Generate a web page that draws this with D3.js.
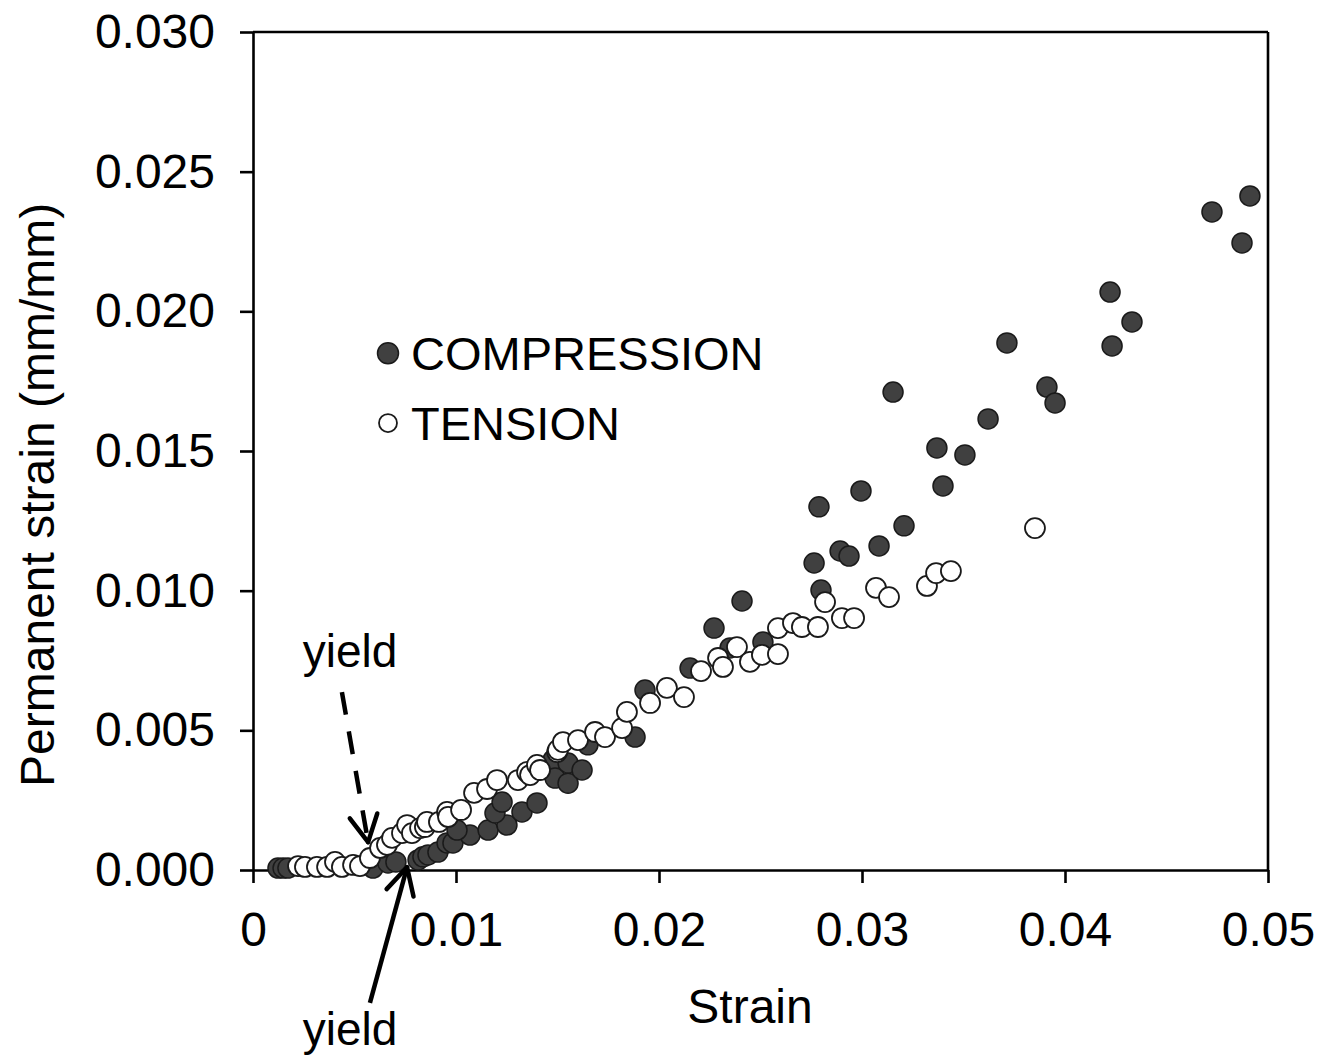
<!DOCTYPE html>
<html><head><meta charset="utf-8">
<script src="https://cdn.jsdelivr.net/npm/d3@7"></script>
<style>
html,body{margin:0;padding:0;background:#fff;}
svg{display:block;font-family:"Liberation Sans",Arial,sans-serif;}
</style></head>
<body>
<svg id="chart" width="1331" height="1059"></svg>
<script>
// ---- data ----
const xTickValues = [0, 0.01, 0.02, 0.03, 0.04, 0.05];
const xTickLabels = ["0", "0.01", "0.02", "0.03", "0.04", "0.05"];
const yTickValues = [0, 0.005, 0.010, 0.015, 0.020, 0.025, 0.030];
const yTickLabels = ["0.000", "0.005", "0.010", "0.015", "0.020", "0.025", "0.030"];
const seriesNames = ["COMPRESSION", "TENSION"];
const xTitle = "Strain";
const yTitle = "Permanent strain (mm/mm)";

const compressionStrain = [0.00123,0.00148,0.00172,0.00591,0.00665,0.00704,0.00813,0.00837,0.00862,0.00911,0.00956,0.00985,0.01069,0.01005,0.01158,0.01251,0.01192,0.01227,0.01325,0.01399,0.01478,0.01488,0.01552,0.01552,0.01621,0.01650,0.01882,0.01931,0.02153,0.02271,0.02350,0.02409,0.02512,0.02764,0.02798,0.02788,0.02892,0.02936,0.02995,0.03084,0.03153,0.03207,0.03369,0.03399,0.03507,0.03621,0.03714,0.03911,0.03951,0.04222,0.04232,0.04330,0.04724,0.04872,0.04911];
const compressionPermanent = [0.00007,0.00007,0.00007,0.00007,0.00025,0.00029,0.00036,0.00047,0.00054,0.00064,0.00097,0.00097,0.00125,0.00143,0.00143,0.00161,0.00204,0.00243,0.00208,0.00240,0.00394,0.00329,0.00311,0.00383,0.00358,0.00448,0.00476,0.00644,0.00723,0.00866,0.00795,0.00963,0.00816,0.01099,0.01002,0.01300,0.01142,0.01124,0.01357,0.01160,0.01711,0.01232,0.01511,0.01375,0.01486,0.01615,0.01887,0.01729,0.01672,0.02069,0.01876,0.01962,0.02356,0.02245,0.02413];

const tensionStrain = [0.00222,0.00256,0.00315,0.00365,0.00404,0.00438,0.00493,0.00527,0.00576,0.00626,0.00660,0.00685,0.00734,0.00759,0.00783,0.00823,0.00847,0.00857,0.00916,0.00956,0.00961,0.01025,0.01089,0.01153,0.01202,0.01305,0.01350,0.01365,0.01399,0.01414,0.01498,0.01502,0.01527,0.01601,0.01685,0.01734,0.01818,0.01842,0.01956,0.02039,0.02123,0.02207,0.02291,0.02315,0.02384,0.02448,0.02507,0.02586,0.02586,0.02660,0.02704,0.02783,0.02818,0.02901,0.02961,0.03069,0.03133,0.03320,0.03365,0.03438,0.03852];
const tensionPermanent = [0.00014,0.00011,0.00011,0.00011,0.00029,0.00011,0.00018,0.00014,0.00043,0.00079,0.00090,0.00115,0.00132,0.00161,0.00132,0.00150,0.00154,0.00172,0.00172,0.00208,0.00190,0.00215,0.00276,0.00290,0.00322,0.00322,0.00351,0.00340,0.00376,0.00358,0.00422,0.00430,0.00458,0.00465,0.00494,0.00476,0.00508,0.00566,0.00598,0.00652,0.00619,0.00712,0.00759,0.00727,0.00798,0.00745,0.00770,0.00866,0.00773,0.00884,0.00870,0.00870,0.00959,0.00902,0.00902,0.01010,0.00977,0.01017,0.01063,0.01070,0.01224];

// annotations (data units): [label x, label y, tail x, tail y, tip x, tip y]
const yieldTension = [0.00478, 0.00727, 0.00438, 0.00637, 0.00567, 0.00100];
const yieldCompression = [0.00478, -0.00627, 0.00576, -0.00476, 0.00759, 0.00010];

// ---- drawing ----
const svg = d3.select("#chart");
const x = d3.scaleLinear().domain([0, 0.05]).range([253, 1268]);
const y = d3.scaleLinear().domain([0, 0.03]).range([870, 32]);
const FS = 47;
const TFS = 48;
const R = 10;

// frame (top & right)
svg.append("line").attr("x1", x(0)).attr("x2", x(0.05)).attr("y1", y(0.03)).attr("y2", y(0.03))
  .attr("stroke", "#000").attr("stroke-width", 2.6);
svg.append("line").attr("x1", x(0.05)).attr("x2", x(0.05)).attr("y1", y(0.03)).attr("y2", y(0))
  .attr("stroke", "#000").attr("stroke-width", 2.6);

const gx = svg.append("g").attr("transform", `translate(0,${y(0)})`)
  .call(d3.axisBottom(x).tickValues(xTickValues).tickFormat((d, i) => xTickLabels[i]).tickSize(13).tickSizeOuter(0).tickPadding(29));
const gy = svg.append("g").attr("transform", `translate(${x(0)},0)`)
  .call(d3.axisLeft(y).tickValues(yTickValues).tickFormat((d, i) => yTickLabels[i]).tickSize(13).tickSizeOuter(0).tickPadding(25));
[gx, gy].forEach(g => {
  g.select(".domain").attr("stroke", "#000").attr("stroke-width", 2.6);
  g.selectAll(".tick line").attr("stroke", "#000").attr("stroke-width", 2.6);
  g.selectAll(".tick text").attr("font-size", TFS).attr("fill", "#000")
    .attr("font-family", '"Liberation Sans",Arial,sans-serif');
});

// axis titles
svg.append("text").attr("x", 750).attr("y", 1023).attr("text-anchor", "middle")
  .attr("font-size", TFS).attr("fill", "#000").text(xTitle);
svg.append("text").attr("transform", `translate(54,${y(0.01343)}) rotate(-90)`).attr("text-anchor", "middle")
  .attr("font-size", TFS).attr("fill", "#000").text(yTitle);

// points
const comp = compressionStrain.map((v, i) => [v, compressionPermanent[i]]);
const tens = tensionStrain.map((v, i) => [v, tensionPermanent[i]]);
svg.append("g").selectAll("circle").data(comp).join("circle")
  .attr("cx", d => x(d[0])).attr("cy", d => y(d[1])).attr("r", R)
  .attr("fill", "#404040").attr("stroke", "#1a1a1a").attr("stroke-width", 1.5);
svg.append("g").selectAll("circle").data(tens).join("circle")
  .attr("cx", d => x(d[0])).attr("cy", d => y(d[1])).attr("r", R)
  .attr("fill", "#fff").attr("stroke", "#1a1a1a").attr("stroke-width", 1.8);

// legend
const leg = svg.append("g");
const legY = [0.0185, 0.0160];
leg.append("circle").attr("cx", 388).attr("cy", y(legY[0])).attr("r", 10.5)
  .attr("fill", "#404040").attr("stroke", "#1a1a1a").attr("stroke-width", 1.5);
leg.append("circle").attr("cx", 388).attr("cy", y(legY[1])).attr("r", 9)
  .attr("fill", "#fff").attr("stroke", "#1a1a1a").attr("stroke-width", 1.8);
seriesNames.forEach((n, i) => {
  leg.append("text").attr("x", 411).attr("y", y(legY[i]) + 17)
    .attr("font-size", FS).attr("fill", "#000").text(n);
});

// yield annotations
function arrow(a, dashed) {
  svg.append("text").attr("x", x(a[0])).attr("y", y(a[1])).attr("text-anchor", "middle")
    .attr("font-size", 46).attr("fill", "#000").text("yield");
  const x0 = x(a[2]), y0 = y(a[3]), x1 = x(a[4]), y1 = y(a[5]);
  const line = svg.append("line").attr("x1", x0).attr("y1", y0).attr("x2", x1).attr("y2", y1)
    .attr("stroke", "#000").attr("stroke-width", 4.5);
  if (dashed) line.attr("stroke-dasharray", "23,17");
  const ang = Math.atan2(y1 - y0, x1 - x0);
  const L = 30, spread = Math.PI / 6.5;
  [ang + Math.PI - spread, ang + Math.PI + spread].forEach(t => {
    svg.append("line").attr("x1", x1).attr("y1", y1)
      .attr("x2", x1 + L * Math.cos(t)).attr("y2", y1 + L * Math.sin(t))
      .attr("stroke", "#000").attr("stroke-width", 4.5).attr("stroke-linecap", "round");
  });
}
arrow(yieldTension, true);
arrow(yieldCompression, false);
</script>
</body></html>
